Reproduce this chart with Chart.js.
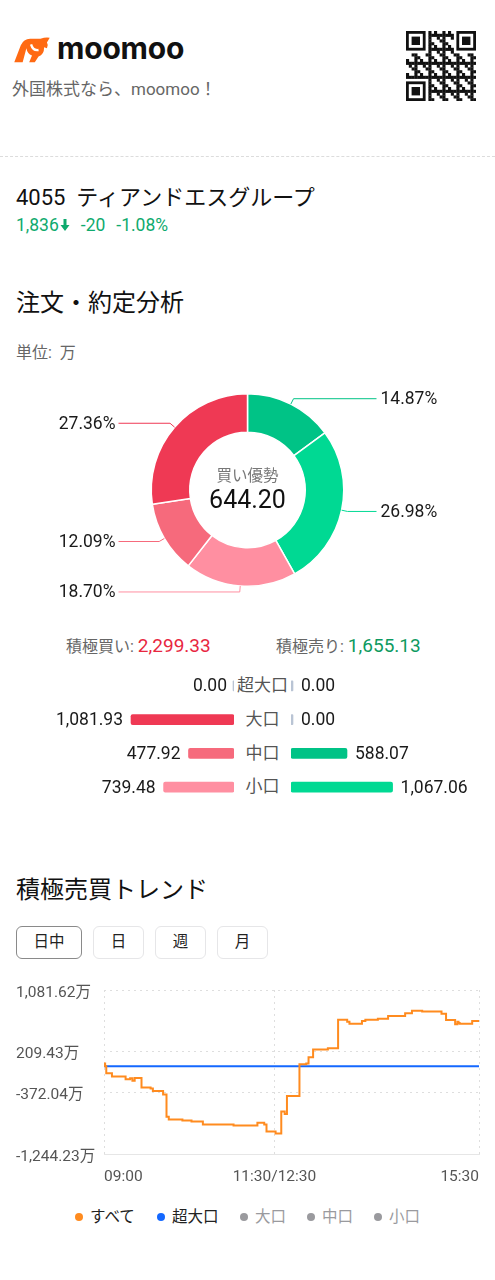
<!DOCTYPE html>
<html lang="ja">
<head>
<meta charset="utf-8">
<script src="https://cdn.jsdelivr.net/npm/chart.js@4.4.1/dist/chart.umd.min.js"></script>
<style>
  html, body { margin: 0; padding: 0; background: #fff; }
  body { width: 495px; height: 1280px; position: relative; overflow: hidden;
         font-family: Roboto, "Noto Sans CJK JP", sans-serif; color: #1f1f1f; }
  .abs { position: absolute; white-space: nowrap; }
  canvas { position: absolute; }
  .btn { position: absolute; top: 926px; height: 31px; border: 1px solid #e6e6e8; border-radius: 6px;
         font-size: 15.5px; line-height: 31px; text-align: center; color: #222; }
  .lg { position: absolute; top: 1207px; font-size: 15.5px; line-height: 20px; }
  .dot { display: inline-block; width: 8px; height: 8px; border-radius: 50%; margin-right: 7px; vertical-align: 1px; }
</style>
</head>
<body>

<!-- ヘッダー -->
<svg class="abs" style="left:11px;top:36px" width="42" height="28" viewBox="0 0 42 30">
  <path d="M2 28 L9 10 Q12 3 19 3 L30 3 Q36 1 40 2 L37 7 Q39 10 37 13 L34 12 Q34 20 28 22 L24 28 L18 28 L21 21 Q16 19 15 13 L11 28 Z" fill="#ff6a13"/>
  <path d="M20 9 Q22 16 28 15" stroke="#fff" stroke-width="2.5" fill="none"/>
</svg>
<div class="abs" style="left:57px;top:30px;font-family:Inter,sans-serif;font-weight:700;font-size:30px;letter-spacing:-0.2px;color:#111">moomoo</div>
<div class="abs" style="left:12px;top:75px;font-size:17px;color:#666">外国株式なら、moomoo！</div>
<canvas id="qr" width="70" height="70" style="left:406px;top:31px"></canvas>
<div class="abs" style="left:0;top:156px;width:495px;border-top:1px dashed #dcdcdc"></div>

<div class="abs" style="left:16px;top:179px;font-size:22px;color:#111">4055&nbsp; ティアンドエスグループ</div>
<div class="abs" style="left:16px;top:215px;font-size:17.5px;color:#0faa6e">1,836<svg width="10" height="12" viewBox="0 0 9 12" style="margin-left:1px"><path d="M3 0 H6 V6 H9 L4.5 12 L0 6 H3 Z" fill="#0faa6e"/></svg><span style="margin-left:11px">-20</span><span style="margin-left:11px">-1.08%</span></div>

<div class="abs" style="left:16px;top:283px;font-size:24px;color:#111">注文・約定分析</div>
<div class="abs" style="left:16px;top:339px;font-size:16px;color:#666">単位:&nbsp; 万</div>

<!-- ドーナツ -->
<canvas id="donut" width="495" height="240" style="left:0;top:370px"></canvas>
<div class="abs" style="left:0;width:495px;top:463px;text-align:center;font-size:15.5px;color:#777">買い優勢</div>
<div class="abs" id="netVal" style="left:0;width:495px;top:485px;text-align:center;font-size:25px;color:#111"></div>

<div class="abs" style="left:66px;top:633px;font-size:16px;color:#666">積極買い: <span id="buyTot" style="font-size:19px;color:#e8273f"></span></div>
<div class="abs" style="left:276px;top:633px;font-size:16px;color:#666">積極売り: <span id="sellTot" style="font-size:19px;color:#0d9a60"></span></div>

<!-- 区分別 -->
<canvas id="buyBars" width="234" height="135" style="left:0;top:669px"></canvas>
<div class="abs" id="midLabels" style="left:234px;top:669px;width:57px;text-align:center;font-size:17px;color:#555"></div>
<canvas id="sellBars" width="204" height="135" style="left:291px;top:669px"></canvas>

<!-- トレンド -->
<div class="abs" style="left:16px;top:870px;font-size:24px;color:#111">積極売買トレンド</div>
<div class="btn" style="left:16px;width:64px;border-color:#8a8a8a">日中</div>
<div class="btn" style="left:93px;width:49px">日</div>
<div class="btn" style="left:155px;width:49px">週</div>
<div class="btn" style="left:217px;width:49px">月</div>

<canvas id="trend" width="495" height="215" style="left:0;top:975px"></canvas>

<div class="lg" style="left:75px;color:#222"><span class="dot" style="background:#ff8b1f"></span>すべて</div>
<div class="lg" style="left:157px;color:#222"><span class="dot" style="background:#1468ff"></span>超大口</div>
<div class="lg" style="left:240px;color:#9a9a9e"><span class="dot" style="background:#9a9a9e"></span>大口</div>
<div class="lg" style="left:307px;color:#9a9a9e"><span class="dot" style="background:#9a9a9e"></span>中口</div>
<div class="lg" style="left:374px;color:#9a9a9e"><span class="dot" style="background:#9a9a9e"></span>小口</div>

<script>
// ---------------------------------------------------------------------------
//  データ
// ---------------------------------------------------------------------------
const sizeLabels = ["超大口", "大口", "中口", "小口"];
const buyValues  = [0, 1081.93, 477.92, 739.48];
const sellValues = [0, 0, 588.07, 1067.06];
const buyColors  = ["#ef3954", "#ef3954", "#f66a7c", "#ff8fa1"];
const sellColors = ["#00c386", "#00c386", "#00c386", "#00d993"];

// 日中トレンド（09:00からの取引分, 昼休み除く）
const trendMinutes = [0, 1, 2, 7, 19, 23, 25, 27, 33, 41, 43, 52, 55, 57, 69, 77, 87, 114, 135, 141,
  143, 151, 156, 159, 161, 172, 178, 180, 184, 197, 206, 214, 216, 227, 230, 241, 250, 265, 271, 280,
  297, 301, 309, 311, 312, 313, 324, 325, 330];
const trendAll = [0, 40, 0, -98, -145, -183, -170, -206, -168, -300, -316, -350, -400, -716, -754, -768, -782, -825, -839, -801,
  -825, -924, -953, -641, -678, -421, 30, 38, 128, 237, 256, 661, 633, 604, 643, 661, 675, 713, 751, 789,
  775, 746, 657, 595, 633, 614, 604, 643, 643];
const trendSuperMinutes = [0, 330];
const trendSuper = [0, 0];

const yTickValues = [-1244.23, -372.04, 209.43, 1081.62];
const xTickMinutes = [0, 150, 330];
const xTickLabels = ["09:00", "11:30/12:30", "15:30"];

Chart.defaults.font.family = "Roboto, 'Noto Sans CJK JP', sans-serif";
Chart.defaults.animation = false;
Chart.defaults.plugins.legend.display = false;
Chart.defaults.plugins.tooltip.enabled = false;

const fmt = v => v.toLocaleString("en-US", { minimumFractionDigits: 2, maximumFractionDigits: 2 });

const buyTotal = buyValues.reduce((a, b) => a + b, 0);
const sellTotal = sellValues.reduce((a, b) => a + b, 0);
document.getElementById("buyTot").textContent = fmt(buyTotal);
document.getElementById("sellTot").textContent = fmt(sellTotal);
document.getElementById("netVal").textContent = fmt(buyTotal - sellTotal);

// ---------------------------------------------------------------------------
//  QR風の飾り
// ---------------------------------------------------------------------------
(function drawQr() {
  const c = document.getElementById("qr").getContext("2d");
  const n = 25, s = 70 / n;
  c.fillStyle = "#111";
  const finder = (ox, oy) => {
    c.fillRect(ox * s, oy * s, 7 * s, 7 * s);
    c.fillStyle = "#fff"; c.fillRect((ox + 1) * s, (oy + 1) * s, 5 * s, 5 * s);
    c.fillStyle = "#111"; c.fillRect((ox + 2) * s, (oy + 2) * s, 3 * s, 3 * s);
  };
  for (let i = 0; i < n; i++) for (let j = 0; j < n; j++) {
    const inF = (i < 8 && j < 8) || (i > 16 && j < 8) || (i < 8 && j > 16);
    if (!inF && ((i * 7 + j * 11 + i * j * 3) % 5 < 2)) c.fillRect(i * s, j * s, s + 0.3, s + 0.3);
  }
  finder(0, 0); finder(18, 0); finder(0, 18);
})();

// ---------------------------------------------------------------------------
//  ドーナツ（引出線ラベル付き）
// ---------------------------------------------------------------------------
const donutValues = [...sellValues, ...buyValues.slice().reverse()];
const donutColors = [...sellColors, ...buyColors.slice().reverse()];
const donutTotal = donutValues.reduce((a, b) => a + b, 0);

const leaderPlugin = {
  id: "leader",
  afterDatasetsDraw(chart) {
    const ctx = chart.ctx;
    const meta = chart.getDatasetMeta(0);
    ctx.save();
    ctx.font = "17.5px Roboto, sans-serif";
    ctx.textBaseline = "middle";
    meta.data.forEach((arc, i) => {
      const v = donutValues[i];
      if (!v) return;
      const mid = (arc.startAngle + arc.endAngle) / 2;
      const R = arc.outerRadius;
      const x1 = arc.x + Math.cos(mid) * R, y1 = arc.y + Math.sin(mid) * R;
      const x2 = arc.x + Math.cos(mid) * (R + 6), y2 = arc.y + Math.sin(mid) * (R + 6);
      const right = x2 >= arc.x;
      const x3 = right ? arc.x + 129 : arc.x - 129;
      ctx.strokeStyle = donutColors[i];
      ctx.lineWidth = 1;
      ctx.beginPath(); ctx.moveTo(x1, y1); ctx.lineTo(x2, y2); ctx.lineTo(x3, y2); ctx.stroke();
      ctx.fillStyle = "#1a1a1a";
      ctx.textAlign = right ? "left" : "right";
      ctx.fillText((v / donutTotal * 100).toFixed(2) + "%", right ? x3 + 4 : x3 - 3, y2 + 1);
    });
    ctx.restore();
  }
};

new Chart(document.getElementById("donut"), {
  type: "doughnut",
  data: { datasets: [{ data: donutValues, backgroundColor: donutColors, borderColor: "#fff", borderWidth: 1.5 }] },
  options: { responsive: false, cutout: "60%", layout: { padding: { top: 23, bottom: 23 } } },
  plugins: [leaderPlugin]
});

// ---------------------------------------------------------------------------
//  区分別バー（左：買い, 右：売り）
// ---------------------------------------------------------------------------
const pxPerUnit = 0.0952;
document.getElementById("midLabels").innerHTML =
  sizeLabels.map(l => `<div style="height:33.75px;line-height:33.75px">${l}</div>`).join("");

function valueLabels(values, leftSide) {
  return {
    id: "vals",
    afterDatasetsDraw(chart) {
      const ctx = chart.ctx;
      ctx.save();
      ctx.font = "17.5px Roboto, sans-serif";
      ctx.fillStyle = "#1a1a1a";
      ctx.textBaseline = "middle";
      ctx.textAlign = leftSide ? "right" : "left";
      chart.getDatasetMeta(0).data.forEach((bar, i) => {
        ctx.fillText(fmt(values[i]), leftSide ? bar.x - 8 : bar.x + 8, bar.y + 1);
      });
      ctx.restore();
    }
  };
}

function sideBars(id, values, colors, width, leftSide) {
  new Chart(document.getElementById(id), {
    type: "bar",
    data: {
      labels: sizeLabels,
      datasets: [{
        data: values,
        backgroundColor: c => values[c.dataIndex] === 0 ? "#b9c4d4" : colors[c.dataIndex],
        barThickness: c => values[c.dataIndex] === 0 ? 8 : 10,
        minBarLength: 2,
        borderRadius: 2,
        borderSkipped: false
      }]
    },
    options: {
      responsive: false,
      indexAxis: "y",
      layout: { padding: 0 },
      scales: {
        x: { display: false, min: 0, max: width / pxPerUnit, reverse: leftSide },
        y: { display: false }
      }
    },
    plugins: [valueLabels(values, leftSide)]
  });
}
sideBars("buyBars", buyValues, buyColors, 234, true);
sideBars("sellBars", sellValues, sellColors, 204, false);

// ---------------------------------------------------------------------------
//  積極売買トレンド
// ---------------------------------------------------------------------------
new Chart(document.getElementById("trend"), {
  type: "line",
  data: {
    datasets: [
      { label: "すべて", data: trendMinutes.map((m, i) => ({ x: m, y: trendAll[i] })),
        borderColor: "#ff8b1f", borderWidth: 2, pointRadius: 0, stepped: "after" },
      { label: "超大口", data: trendSuperMinutes.map((m, i) => ({ x: m, y: trendSuper[i] })),
        borderColor: "#1468ff", borderWidth: 2, pointRadius: 0 }
    ]
  },
  options: {
    responsive: false,
    layout: { padding: { left: 16, right: 16, top: 15, bottom: 0 } },
    scales: {
      x: {
        type: "linear", min: 0, max: 330,
        afterBuildTicks: s => { s.ticks = xTickMinutes.map(v => ({ value: v })); },
        afterFit: s => { s.height = 36; },
        ticks: { align: "inner", maxRotation: 0, autoSkip: false, padding: 14, color: "#555",
                 font: { size: 15.5 }, callback: v => xTickLabels[xTickMinutes.indexOf(v)] },
        grid: { color: "#dedede", drawTicks: false },
        border: { display: true, color: "#e6e6e6", dash: [2, 4] }
      },
      y: {
        min: yTickValues[0], max: yTickValues[yTickValues.length - 1],
        afterBuildTicks: s => { s.ticks = yTickValues.map(v => ({ value: v })); },
        afterFit: s => { s.width = 88; },
        ticks: { crossAlign: "far", labelOffset: 3, color: "#555", font: { size: 15.5 },
                 callback: v => fmt(v) + "万" },
        grid: { color: "#dedede", drawTicks: false },
        border: { display: false, dash: [2, 4] }
      }
    }
  }
});
</script>
</body>
</html>
